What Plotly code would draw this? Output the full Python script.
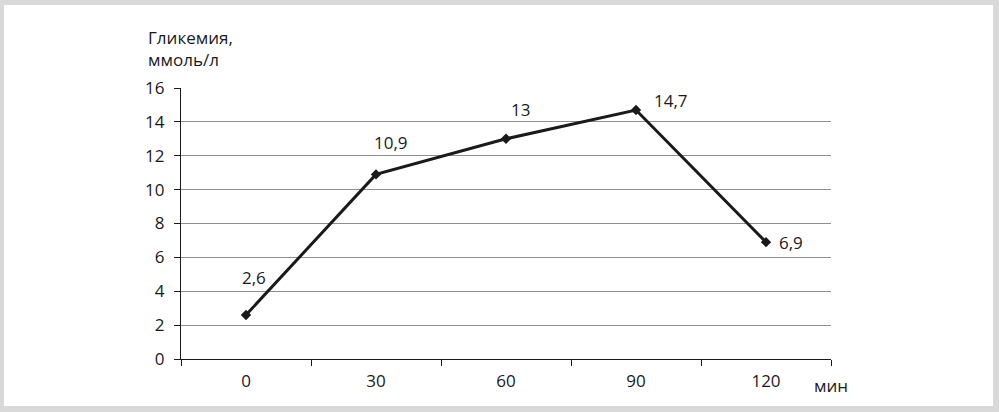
import plotly.graph_objects as go

categories = ["0", "30", "60", "90", "120"]
glycemia = [2.6, 10.9, 13, 14.7, 6.9]
value_labels = ["2,6", "10,9", "13", "14,7", "6,9"]
y_ticks = [0, 2, 4, 6, 8, 10, 12, 14, 16]

FONT = "Open Sans"
FS = 17
TXT = "#1a1a1a"

L, R, T, B = 181, 168, 88, 53
W, H = 999, 412
pw, ph = W - L - R, H - T - B

def px_x(px):
    return (px - L) / pw

def px_y(py):
    return (H - B - py) / ph

fig = go.Figure()
fig.add_trace(go.Scatter(
    x=categories, y=glycemia, mode="lines+markers",
    line=dict(color="#1a1a1a", width=3),
    marker=dict(symbol="diamond", size=8, color="#1a1a1a"),
    hoverinfo="skip", showlegend=False,
))

offsets = [(8, 37), (15, 32), (14, 29), (35, 10), (25, 0)]
annotations = []
for i, (v, lab, (dx, dy)) in enumerate(zip(glycemia, value_labels, offsets)):
    annotations.append(dict(x=i, y=v, xref="x", yref="y", text=lab, showarrow=False,
                            xshift=dx, yshift=dy, font=dict(family=FONT, size=FS, color=TXT)))

annotations.append(dict(x=px_x(146), y=px_y(24), xref="paper", yref="paper",
                        text="Гликемия,<br>ммоль/л", showarrow=False, align="left",
                        xanchor="left", yanchor="top",
                        font=dict(family=FONT, size=FS, color=TXT)))
annotations.append(dict(x=px_x(831), y=px_y(385), xref="paper", yref="paper",
                        text="мин", showarrow=False, xanchor="center", yanchor="middle",
                        font=dict(family=FONT, size=FS, color=TXT)))

fig.update_layout(
    width=W, height=H,
    margin=dict(l=L, r=R, t=T, b=B, pad=0),
    paper_bgcolor="#d9d9d9",
    plot_bgcolor="white",
    font=dict(family=FONT, size=FS, color=TXT),
    annotations=annotations,
    shapes=[dict(type="rect", xref="paper", yref="paper", layer="below",
                 x0=px_x(4), x1=px_x(993), y0=px_y(406), y1=px_y(5),
                 fillcolor="white", line=dict(width=0))],
    xaxis=dict(
        type="category", categoryorder="array", categoryarray=categories,
        range=[-0.5, len(categories) - 0.5],
        showgrid=False, zeroline=False,
        showline=True, linecolor="#1a1a1a", linewidth=1.2,
        ticks="outside", tickson="boundaries", ticklen=6, tickcolor="#1a1a1a", tickwidth=1,
        ticklabelstandoff=6,
        tickfont=dict(family=FONT, size=FS, color=TXT),
        fixedrange=True,
    ),
    yaxis=dict(
        range=[0, 16], tickvals=y_ticks, ticktext=[str(t) for t in y_ticks],
        showgrid=True, gridcolor="#8f8f8f", gridwidth=1, zeroline=False,
        showline=True, linecolor="#1a1a1a", linewidth=1.2,
        ticks="outside", ticklen=6, tickcolor="#1a1a1a", tickwidth=1,
        ticklabelstandoff=6,
        tickfont=dict(family=FONT, size=FS, color=TXT),
        fixedrange=True,
    ),
)

fig.write_html("out.html", config={"displayModeBar": False},
               post_script="document.body.style.margin='0';document.body.style.overflow='hidden';")
